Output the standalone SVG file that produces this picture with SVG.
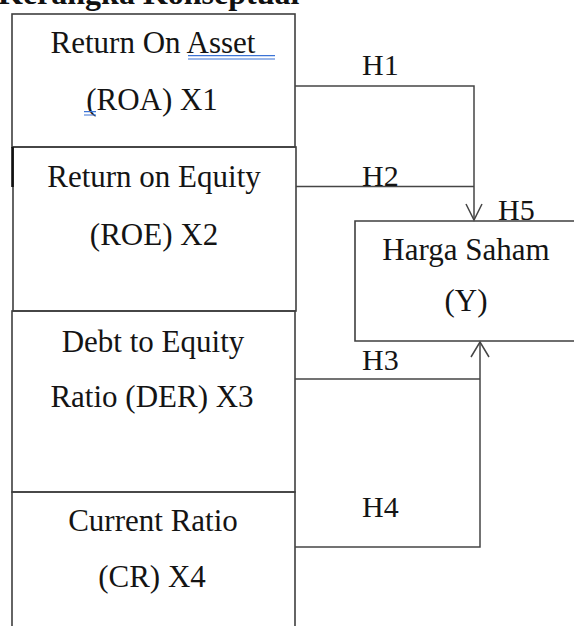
<svg xmlns="http://www.w3.org/2000/svg" width="574" height="626" viewBox="0 0 574 626">
<style>
.bg{fill:#ffffff}
.box{fill:none;stroke:#3f3f3f;stroke-width:1.6}
.edge{fill:none;stroke:#454545;stroke-width:1.5}
.t{font-family:"Liberation Serif","Times New Roman",serif;font-size:31px;fill:#141414}
.c{text-anchor:middle}
.h{font-family:"Liberation Serif","Times New Roman",serif;font-size:30px;fill:#141414}
.title{font-family:"Liberation Serif","Times New Roman",serif;font-size:32px;font-weight:bold;fill:#111}
.spell{stroke:#3b73d6;stroke-width:1.2;fill:none}
</style>
<rect class="bg" x="0" y="0" width="574" height="626"/>
<text class="title" x="-2" y="4">Kerangka Konseptual</text>

<g id="roa">
<rect class="box" x="12" y="14" width="283" height="133"/>
<text class="t c" x="153" y="53">Return On Asset </text>
<text class="t c" x="152" y="110">(ROA) X1</text>
<path class="spell" d="M188 55.7H275M188 59H275M84 111.7H96M84 115H96"/>
</g>

<g id="roe">
<rect class="box" x="13" y="147" width="283" height="164"/>
<path d="M12.5 147V187" stroke="#111" stroke-width="2.6"/>
<text class="t c" x="154" y="187">Return on Equity</text>
<text class="t c" x="154" y="245">(ROE) X2</text>
</g>

<g id="der">
<rect class="box" x="12" y="311" width="283" height="181"/>
<text class="t c" x="153" y="352">Debt to Equity</text>
<text class="t c" x="152" y="407">Ratio (DER) X3</text>
</g>

<g id="cr">
<path class="box" d="M12 626V492H295V626"/>
<text class="t c" x="153" y="531">Current Ratio</text>
<text class="t c" x="152" y="587">(CR) X4</text>
</g>

<g id="harga">
<path class="box" d="M576 221H355V341H576"/>
<text class="t c" x="466" y="260">Harga Saham</text>
<text class="t c" x="466" y="311">(Y)</text>
</g>

<g id="connectors">
<path class="edge" d="M295 86H474V220"/>
<path class="edge" d="M296 186.5H474"/>
<path class="edge" d="M466 204L474 220L482 204"/>
<path class="edge" d="M295 379H480"/>
<path class="edge" d="M295 547H480V342"/>
<path class="edge" d="M471 357L480 342L489 357"/>
<text class="h" x="362" y="75">H1</text>
<text class="h" x="362" y="186">H2</text>
<text class="h" x="498" y="220">H5</text>
<text class="h" x="362" y="370">H3</text>
<text class="h" x="362" y="517">H4</text>
</g>
</svg>
